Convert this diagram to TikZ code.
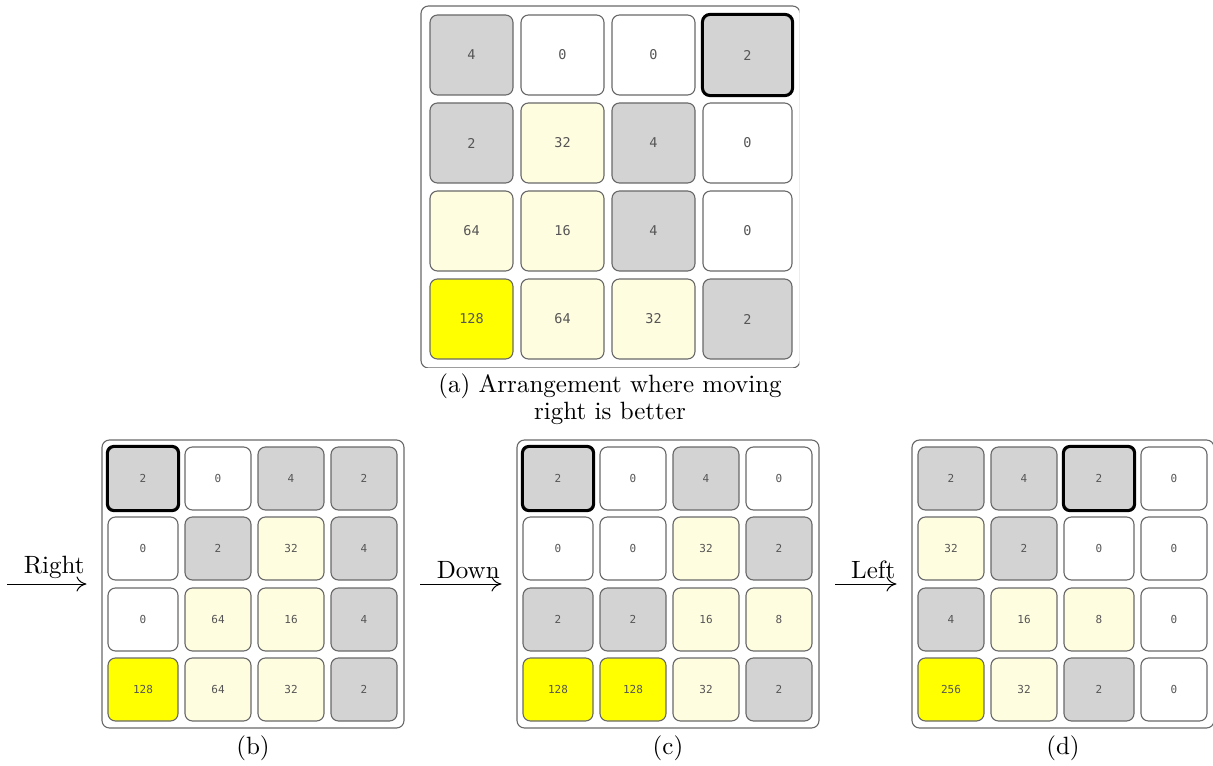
\documentclass[tikz,border=0pt]{standalone}
\usepackage{fontspec}
\newfontfamily\tilefont{DejaVu Sans Mono}
\usetikzlibrary{arrows.meta}
\definecolor{tilegray}{RGB}{211,211,211}
\definecolor{tilecream}{RGB}{255,253,224}
\definecolor{tilegold}{RGB}{255,255,0}
\definecolor{tileedge}{RGB}{105,105,105}
\definecolor{tiletext}{RGB}{85,85,85}
\colorlet{tile0}{white}
\colorlet{tile2}{tilegray}
\colorlet{tile4}{tilegray}
\colorlet{tile8}{tilecream}
\colorlet{tile16}{tilecream}
\colorlet{tile32}{tilecream}
\colorlet{tile64}{tilecream}
\colorlet{tile128}{tilegold}
\colorlet{tile256}{tilegold}

% 4x4 board: #1 name, #2 column lefts, #3 column widths, #4 row tops,
% #5 tile height, #6 digit size, #7 rows of values
\newcommand{\drawboard}[7]{%
  \foreach \row [count=\r from 0] in {#7} {
    \foreach \v [count=\c from 0] in \row {
      \pgfmathsetmacro\tx{{#2}[\c]+{#3}[\c]/2}
      \pgfmathsetmacro\tw{{#3}[\c]}
      \pgfmathsetmacro\ty{{#4}[\r]+#5/2}
      \node[tile, fill=tile\v, minimum width=\tw*0.4pt, minimum height=#5*0.4pt,
            font=\tilefont\fontsize{#6}{#6}\selectfont] (#1-\r-\c) at (\tx,\ty) {\v};
    }
  }%
}

\begin{document}
\begin{tikzpicture}[x=0.4pt, y=-0.4pt, font=\fontsize{10}{10.8}\selectfont,
  tile/.style={draw=tileedge, line width=0.45pt, rounded corners=3pt, inner sep=0pt, text=tiletext},
  hilite/.style={draw=black, line width=1.2pt, rounded corners=3pt},
  frame/.style={draw=tileedge, line width=0.45pt, rounded corners=3pt, inner sep=0pt},
  move/.style={line width=0.4pt, -{Computer Modern Rightarrow[length=4pt, width=6pt]}, shorten >=6pt}]
  \useasboundingbox (0,0) rectangle (1213,766);

  % Board (a)
  \begin{scope}
    \clip (415,0) rectangle (799.3,367.3);
    \node[frame, minimum width=379*0.4pt, minimum height=362*0.4pt] (aframe) at (610.5,187) {};
  \end{scope}
  \drawboard{a}{430,521,612,703}{83,83,83,89}{15,103,191,279}{80}{5.4}
    {{4,0,0,2},{2,32,4,0},{64,16,4,0},{128,64,32,2}}
  \draw[hilite] (a-0-3.south west) rectangle (a-0-3.north east);
  \node[align=center] (capa) at (610,399) {(a) Arrangement where moving\\right is better};

  % Board (b)
  \begin{scope}[shift={(102,440)}]
    \node[frame, minimum width=302*0.4pt, minimum height=288*0.4pt] (bframe) at (151,144) {};
    \drawboard{b}{6,83,156,229}{70,66,66,66}{7,77,148,218}{63}{4.4}
      {{2,0,4,2},{0,2,32,4},{0,64,16,4},{128,64,32,2}}
    \draw[hilite, rounded corners=2.5pt] (b-0-0.south west) rectangle (b-0-0.north east);
    \node (capb) at (151,308) {(b)};
  \end{scope}

  % Board (c)
  \begin{scope}[shift={(517,440)}]
    \node[frame, minimum width=302*0.4pt, minimum height=288*0.4pt] (cframe) at (151,144) {};
    \drawboard{c}{6,83,156,229}{70,66,66,66}{7,77,148,218}{63}{4.4}
      {{2,0,4,0},{0,0,32,2},{2,2,16,8},{128,128,32,2}}
    \draw[hilite, rounded corners=2.5pt] (c-0-0.south west) rectangle (c-0-0.north east);
    \node (capc) at (151,308) {(c)};
  \end{scope}

  % Board (d)
  \begin{scope}[shift={(912,440)}]
    \node[frame, minimum width=302*0.4pt, minimum height=288*0.4pt] (dframe) at (151,144) {};
    \drawboard{d}{6,79,152,229}{66,66,70,66}{7,77,148,218}{63}{4.4}
      {{2,4,2,0},{32,2,0,0},{4,16,8,0},{256,32,2,0}}
    \draw[hilite, rounded corners=2.5pt] (d-0-2.south west) rectangle (d-0-2.north east);
    \node (capd) at (151,308) {(d)};
  \end{scope}

  % Moves
  \coordinate (rgt) at (7,584);
  \coordinate (dwn) at (420,584);
  \coordinate (lft) at (835,584);
  \draw[move] (rgt) -- node[above, inner sep=2pt] {Right} (bframe.west);
  \draw[move] (dwn) -- node[above, inner sep=2pt] {Down} (cframe.west);
  \draw[move] (lft) -- node[above, inner sep=2pt] {Left} (dframe.west);
\end{tikzpicture}
\end{document}
